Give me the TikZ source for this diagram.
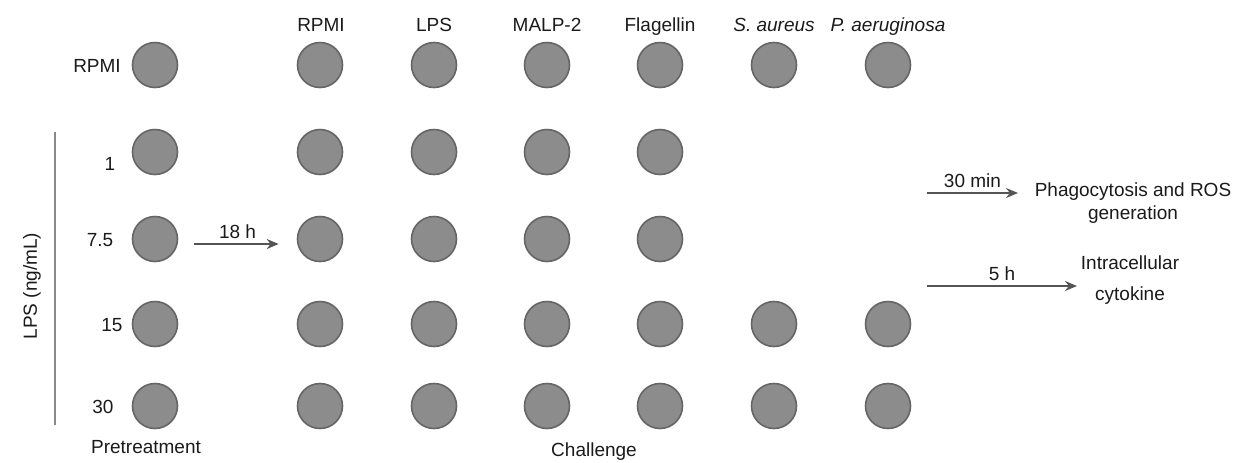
\documentclass[tikz,border=0pt]{standalone}
\usepackage{fontspec}
\setmainfont{Liberation Sans}
\usetikzlibrary{arrows.meta}
\definecolor{wellfill}{HTML}{8C8C8C}
\definecolor{wellrim}{HTML}{656565}
\definecolor{arrowgray}{HTML}{555555}
\definecolor{axisgray}{HTML}{8A8A8A}
\definecolor{ink}{HTML}{1A1A1A}
\begin{document}
\begin{tikzpicture}[x=0.5pt,y=-0.5pt,
  font=\fontsize{9.5}{11.5}\selectfont, text=ink,
  well/.style={circle, minimum size=22.5pt, inner sep=0pt, fill=wellfill, draw=wellrim, line width=0.8pt},
  lbl/.style={inner sep=0pt, anchor=base},
  flow/.style={draw=arrowgray, line width=1pt, -{Stealth[length=6pt,width=5pt]}},
  tlabel/.style={above, inner sep=2pt}]
\useasboundingbox (0,0) rectangle (1248,462);

% well positions: columns and rows
\def\colx{{155,320,434,547,660,774,888}}
\def\rowy{{65,152,239,324,406}}

% wells: full rows carry all seven conditions, rows 1 and 2 only five
\foreach \r in {0,3,4} {
  \foreach \c in {0,...,6} {
    \pgfmathsetmacro{\xx}{\colx[\c]}
    \pgfmathsetmacro{\yy}{\rowy[\r]}
    \node[well] (w-\r-\c) at (\xx,\yy) {};
  }
}
\foreach \r in {1,2} {
  \foreach \c in {0,...,4} {
    \pgfmathsetmacro{\xx}{\colx[\c]}
    \pgfmathsetmacro{\yy}{\rowy[\r]}
    \node[well] (w-\r-\c) at (\xx,\yy) {};
  }
}

% challenge headings
\node[lbl] (h1) at (321,31) {RPMI};
\node[lbl] (h2) at (434,31) {LPS};
\node[lbl] (h3) at (547,31) {MALP-2};
\node[lbl] (h4) at (660,31) {Flagellin};
\node[lbl] (h5) at (774,31) {\textit{S. aureus}};
\node[lbl] (h6) at (888,31) {\textit{P. aeruginosa}};

% pretreatment doses
\node[lbl] (d0) at (97,72) {RPMI};
\node[lbl] (d1) at (110,170) {1};
\node[lbl] (d2) at (100,246) {7.5};
\node[lbl] (d3) at (112,331) {15};
\node[lbl] (d4) at (103,413) {30};

% dose axis
\coordinate (axtop) at (55,132);
\coordinate (axbot) at (55,425);
\draw[axisgray, line width=1pt] (axtop) -- (axbot);
\node[rotate=90, inner sep=0pt] (axis) at (32,286) {LPS (ng/mL)};

% footers
\node[inner sep=0pt] (pre) at (146,447) {Pretreatment};
\node[inner sep=0pt] (chal) at (594,452) {Challenge};

% pretreatment to challenge
\draw[flow, shorten <=8pt, shorten >=9pt] ([yshift=-2.5pt]w-2-0.east) -- node[tlabel] {18 h} ([yshift=-2.5pt]w-2-1.west);

% read-outs
\node[align=center, inner sep=0pt] (phago) at (1133,203) {Phagocytosis and ROS\\generation};
\node[align=center, inner sep=0pt] (ics) at (1130,280) {Intracellular\\[4pt]cytokine};
\coordinate (s30) at (927,193);
\coordinate (e30) at (1018,193);
\coordinate (s5) at (927,286);
\coordinate (e5) at (1077,286);
\draw[flow] (s30) -- node[tlabel] {30 min} (e30);
\draw[flow] (s5) -- node[tlabel] {5 h} (e5);
\end{tikzpicture}
\end{document}
